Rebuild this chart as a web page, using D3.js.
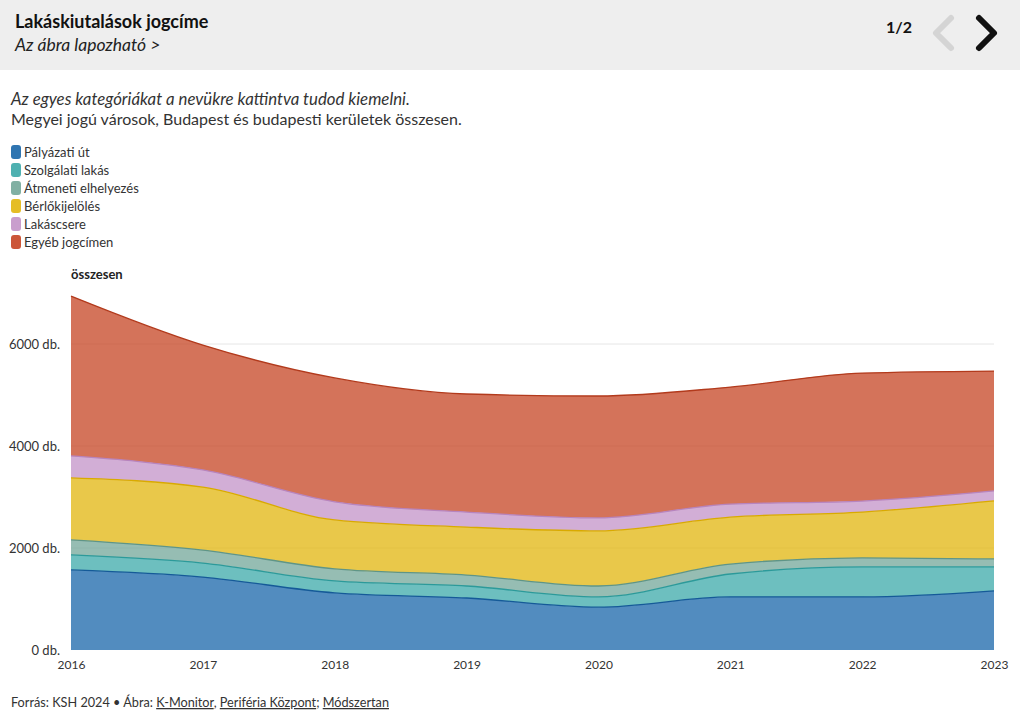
<!DOCTYPE html>
<html>
<head>
<meta charset="utf-8">
<script src="https://cdn.jsdelivr.net/npm/d3@7"></script>
<style>
  html, body { margin: 0; padding: 0; background: #fff; }
  svg { display: block; font-family: Lato, "Open Sans", sans-serif; }
</style>
</head>
<body>
<svg id="chart" width="1020" height="721"></svg>
<script>
const years = [2016, 2017, 2018, 2019, 2020, 2021, 2022, 2023];
const seriesNames = ["Pályázati út", "Szolgálati lakás", "Átmeneti elhelyezés", "Bérlőkijelölés", "Lakáscsere", "Egyéb jogcímen"];
const palyazati   = [1570, 1430, 1120, 1020, 840, 1040, 1040, 1160];
const szolgalati  = [295, 275, 235, 235, 200, 450, 590, 470];
const atmeneti    = [295, 255, 235, 215, 215, 195, 175, 155];
const berlo       = [1215, 1235, 960, 940, 1080, 920, 900, 1140];
const lakascsere  = [430, 335, 355, 295, 255, 255, 215, 195];
const egyeb       = [3135, 2450, 2430, 2315, 2390, 2295, 2510, 2350];
const yTicks = [0, 2000, 4000, 6000];
const colors = ["#1866a9", "#3ca9a9", "#73a799", "#e2b60e", "#c393c8", "#c64423"];
const lineColors = ["#155a98", "#2c9a9a", "#5f9587", "#d9aa00", "#b784be", "#b23a1c"];

const seriesValues = [palyazati, szolgalati, atmeneti, berlo, lakascsere, egyeb];
const table = years.map((y, i) => {
  const row = { year: y };
  seriesNames.forEach((n, k) => row[n] = seriesValues[k][i]);
  return row;
});

const svg = d3.select("#chart");

// header
svg.append("rect").attr("x", 0).attr("y", 0).attr("width", 1020).attr("height", 70).attr("fill", "#eeeeee");
svg.append("text").attr("x", 15).attr("y", 28).attr("font-size", 18).attr("font-weight", 700).attr("fill", "#111")
  .text("Lakáskiutalások jogcíme");
svg.append("text").attr("x", 15).attr("y", 51).attr("font-size", 17.5).attr("font-style", "italic").attr("fill", "#222")
  .text("Az ábra lapozható >");
svg.append("text").attr("x", 912).attr("y", 33).attr("font-size", 16).attr("font-weight", 700).attr("text-anchor", "end").attr("fill", "#111")
  .text("1/2");
svg.append("path").attr("d", "M951,18 L936,33 L951,48").attr("fill", "none").attr("stroke", "#d4d4d4").attr("stroke-width", 6).attr("stroke-linecap", "round").attr("stroke-linejoin", "round");
svg.append("path").attr("d", "M979,18 L994,33 L979,48").attr("fill", "none").attr("stroke", "#111").attr("stroke-width", 6).attr("stroke-linecap", "round").attr("stroke-linejoin", "round");

// description
svg.append("text").attr("x", 11).attr("y", 105).attr("font-size", 16.8).attr("font-style", "italic").attr("fill", "#333")
  .text("Az egyes kategóriákat a nevükre kattintva tudod kiemelni.");
svg.append("text").attr("x", 11).attr("y", 125).attr("font-size", 16).attr("fill", "#333")
  .text("Megyei jogú városok, Budapest és budapesti kerületek összesen.");

// legend
const leg = svg.append("g");
seriesNames.forEach((n, i) => {
  const cy = 152 + i * 18;
  leg.append("rect").attr("x", 11).attr("y", cy - 7).attr("width", 10).attr("height", 14).attr("rx", 3)
    .attr("fill", colors[i]).attr("fill-opacity", 0.9);
  leg.append("text").attr("x", 24).attr("y", cy + 5).attr("font-size", 13).attr("fill", "#333").text(n);
});

// chart
const x = d3.scaleLinear().domain([2016, 2023]).range([71, 994]);
const y = d3.scaleLinear().domain([0, 6000]).range([650, 344]);

const g = svg.append("g");
g.selectAll("line.grid").data(yTicks.filter(d => d > 0)).join("line")
  .attr("x1", 71).attr("x2", 994).attr("y1", d => y(d)).attr("y2", d => y(d))
  .attr("stroke", "#e6e6e6").attr("stroke-width", 1);

const yAxis = d3.axisLeft(y).tickValues(yTicks).tickFormat(d => d + " db.").tickSize(0).tickPadding(11);
const ya = svg.append("g").attr("transform", "translate(71,0)").call(yAxis);
ya.select(".domain").remove();
ya.selectAll("text").attr("font-size", 13).attr("fill", "#333").attr("font-family", "Lato, sans-serif");

const xAxis = d3.axisBottom(x).tickValues(years).tickFormat(d3.format("d")).tickSize(0).tickPadding(10);
const xa = svg.append("g").attr("transform", "translate(0,650)").call(xAxis);
xa.select(".domain").remove();
xa.selectAll("text").attr("font-size", 12).attr("fill", "#333").attr("font-family", "Lato, sans-serif");

svg.append("text").attr("x", 71).attr("y", 279).attr("font-size", 13).attr("font-weight", 700).attr("fill", "#222").text("összesen");

const stack = d3.stack().keys(seriesNames);
const layers = stack(table);
const area = d3.area().x(d => x(d.data.year)).y0(d => y(d[0])).y1(d => y(d[1])).curve(d3.curveMonotoneX);
const line = d3.line().x(d => x(d.data.year)).y(d => y(d[1])).curve(d3.curveMonotoneX);

g.selectAll("path.area").data(layers).join("path")
  .attr("class", "area").attr("d", area)
  .attr("fill", (d, i) => colors[i]).attr("fill-opacity", 0.75);
g.selectAll("path.line").data(layers).join("path")
  .attr("class", "line").attr("d", line)
  .attr("fill", "none").attr("stroke", (d, i) => lineColors[i]).attr("stroke-width", 1.3);

// footer
const foot = svg.append("text").attr("x", 11).attr("y", 707).attr("font-size", 12.7).attr("fill", "#333");
foot.append("tspan").text("Forrás: KSH 2024 • Ábra: ");
foot.append("tspan").attr("text-decoration", "underline").text("K-Monitor");
foot.append("tspan").text(", ");
foot.append("tspan").attr("text-decoration", "underline").text("Periféria Központ");
foot.append("tspan").text("; ");
foot.append("tspan").attr("text-decoration", "underline").text("Módszertan");
</script>
</body>
</html>
